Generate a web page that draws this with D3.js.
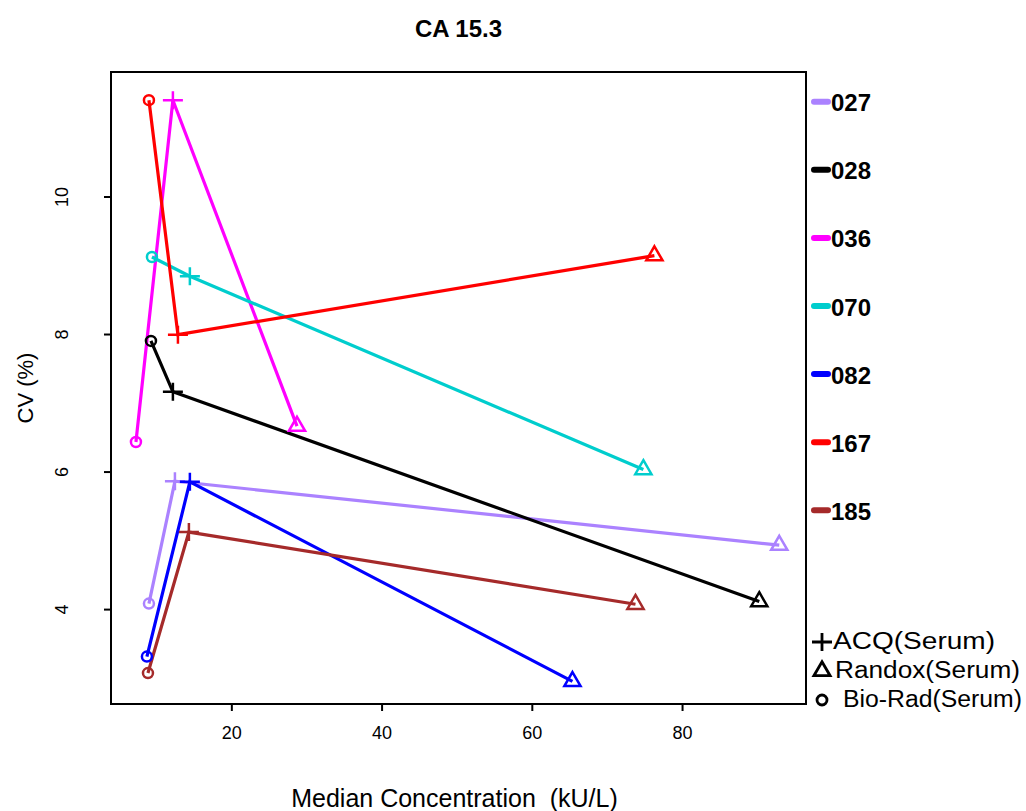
<!DOCTYPE html>
<html>
<head>
<meta charset="utf-8">
<script src="https://cdn.jsdelivr.net/npm/d3@7"></script>
<style>
  body { margin: 0; background: #fff; }
  text { font-family: "Liberation Sans", Arial, sans-serif; }
</style>
</head>
<body>
<div id="chart"></div>
<script>
// lab codes and their three measurements (Bio-Rad -> ACQ -> Randox)
const labs = ["027", "028", "036", "070", "082", "167", "185"];
const labColors = ["#AB82FF", "#000000", "#FF00FF", "#00CDCD", "#0000FF", "#FF0000", "#A52A2A"];

const bioradX = [9.03, 9.30, 7.30, 9.43, 8.76, 9.03, 8.90];
const bioradY = [4.08, 7.90, 6.43, 9.12, 3.31, 11.40, 3.07];
const acqX = [12.49, 12.22, 12.22, 14.48, 14.48, 12.89, 14.35];
const acqY = [5.86, 7.16, 11.40, 8.84, 5.85, 7.99, 5.12];
const randoxX = [92.94, 90.28, 28.74, 74.85, 65.41, 76.32, 73.8];
const randoxY = [4.93, 4.11, 6.66, 6.03, 2.95, 9.14, 4.07];

const xTicks = [20, 40, 60, 80];
const yTicks = [4, 6, 8, 10];
const methods = ["ACQ(Serum)", "Randox(Serum)", "Bio-Rad(Serum)"];

const W = 1026, H = 811;
const plot = { left: 111, right: 806, top: 72, bottom: 704 };

const svg = d3.select("#chart").append("svg")
    .attr("width", W).attr("height", H);

const x = d3.scaleLinear().domain([3.98, 96.5]).range([plot.left, plot.right]);
const y = d3.scaleLinear().domain([2.62, 11.81]).range([plot.bottom, plot.top]);

// axes
const xAxis = svg.append("g")
    .attr("transform", `translate(0,${plot.bottom})`)
    .call(d3.axisBottom(x).tickValues(xTicks).tickSize(7).tickPadding(15).tickFormat(d3.format("d")));
xAxis.select(".domain").remove();
xAxis.selectAll("line").attr("stroke", "#000").attr("stroke-width", 2);
xAxis.selectAll("text").attr("font-size", "18px").attr("fill", "#000");

const yAxis = svg.append("g")
    .attr("transform", `translate(${plot.left},0)`)
    .call(d3.axisLeft(y).tickValues(yTicks).tickSize(7).tickFormat(d3.format("d")));
yAxis.select(".domain").remove();
yAxis.selectAll("line").attr("stroke", "#000").attr("stroke-width", 2);
yAxis.selectAll("text")
    .attr("font-size", "18px").attr("fill", "#000")
    .attr("text-anchor", "middle").attr("dy", null).attr("x", null).attr("y", 0)
    .attr("transform", "translate(-49,0) rotate(-90)")
    .attr("dominant-baseline", "central");

// series
const series = labs.map((lab, i) => ({
    lab: lab,
    color: labColors[i],
    pts: [
        { m: "biorad", x: bioradX[i], y: bioradY[i] },
        { m: "acq", x: acqX[i], y: acqY[i] },
        { m: "randox", x: randoxX[i], y: randoxY[i] }
    ]
}));

const line = d3.line().x(d => x(d.x)).y(d => y(d.y));

const g = svg.append("g");
series.forEach(s => {
    g.append("path")
        .attr("d", line(s.pts))
        .attr("fill", "none")
        .attr("stroke", s.color)
        .attr("stroke-width", 3.2);
});

function marker(sel, m, color, sw) {
    if (m === "acq") {
        sel.append("path").attr("d", "M-10,0H10M0,-9V9")
            .attr("stroke", color).attr("stroke-width", sw).attr("fill", "none");
    } else if (m === "randox") {
        sel.append("path").attr("d", "M0,-9.3L8.1,4.7L-8.1,4.7Z")
            .attr("stroke", color).attr("stroke-width", sw).attr("fill", "none");
    } else {
        sel.append("circle").attr("r", 5)
            .attr("stroke", color).attr("stroke-width", sw).attr("fill", "none");
    }
}

series.forEach(s => {
    s.pts.forEach(p => {
        const mg = g.append("g").attr("transform", `translate(${x(p.x)},${y(p.y)})`);
        marker(mg, p.m, s.color, 2.5);
    });
});

// box
svg.append("rect")
    .attr("x", plot.left).attr("y", plot.top)
    .attr("width", plot.right - plot.left).attr("height", plot.bottom - plot.top)
    .attr("fill", "none").attr("stroke", "#000").attr("stroke-width", 2);

// title and labels
svg.append("text")
    .attr("x", (plot.left + plot.right) / 2).attr("y", 37)
    .attr("text-anchor", "middle").attr("font-size", "24px").attr("font-weight", "bold")
    .text("CA 15.3");

svg.append("text")
    .attr("x", (plot.left + plot.right) / 2 - 4).attr("y", 807)
    .attr("text-anchor", "middle").attr("font-size", "25px")
    .text("Median Concentration\u00A0\u00A0(kU/L)");

svg.append("text")
    .attr("transform", `translate(33,${(plot.top + plot.bottom) / 2}) rotate(-90)`)
    .attr("text-anchor", "middle").attr("font-size", "22px")
    .text("CV (%)");

// lab legend
const leg = svg.append("g");
labs.forEach((lab, i) => {
    const yy = 101.7 + i * 68.1;
    leg.append("line")
        .attr("x1", 814).attr("x2", 828).attr("y1", yy).attr("y2", yy)
        .attr("stroke", labColors[i]).attr("stroke-width", 6).attr("stroke-linecap", "round");
    leg.append("text")
        .attr("x", 831).attr("y", yy + 9.5)
        .attr("font-size", "24px").attr("font-weight", "bold")
        .text(lab);
});

// method legend
const mKeys = ["acq", "randox", "biorad"];
const mWidths = [162, 185, 179];
const mStart = [833, 835, 843];
methods.forEach((m, i) => {
    const base = 649 + i * 29;
    const mg = leg.append("g").attr("transform", `translate(822,${base - 7})`);
    marker(mg, mKeys[i], "#000", 2.8);
    leg.append("text")
        .attr("x", mStart[i]).attr("y", base)
        .attr("font-size", "23px")
        .attr("textLength", mWidths[i]).attr("lengthAdjust", "spacingAndGlyphs")
        .text(m);
});
</script>
</body>
</html>
